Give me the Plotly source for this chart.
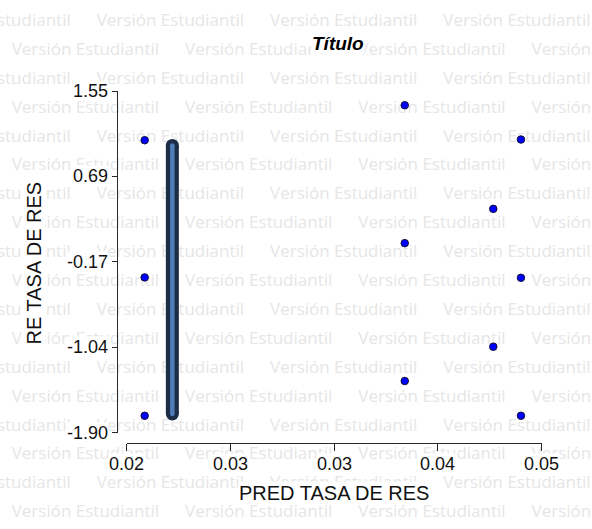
import plotly.graph_objects as go

# ---- data ----
pred = [0.0213, 0.0213, 0.0213, 0.0401, 0.0401, 0.0401, 0.0465, 0.0465, 0.0485, 0.0485, 0.0485]
resid = [1.053, -0.332, -1.729, 1.406, 0.014, -1.378, 0.360, -1.032, 1.060, -0.336, -1.729]
bar_x = [0.0233, 0.0233]
bar_y = [1.00, -1.71]
x_tick_vals = [0.02, 0.0275, 0.035, 0.0425, 0.05]
x_tick_text = ["0.02", "0.03", "0.03", "0.04", "0.05"]
y_tick_vals = [-1.90, -1.0375, -0.175, 0.6875, 1.55]
y_tick_text = ["-1.90", "-1.04", "-0.17", "0.69", "1.55"]
title_text = "Título"
x_title = "PRED TASA DE RES"
y_title = "RE TASA DE RES"
watermark = "Versión Estudiantil"

W, H = 592, 529
AX_COL = "#2a2a2a"
LBL_FONT = "Liberation Sans, Arial, sans-serif"

fig = go.Figure()

# ---- watermark layer (pixel-space helper axes covering whole figure) ----
wx, wy = [], []
for k in range(18):
    yy = 21.7 + 28.9 * k
    start = 11.7 if k % 2 == 1 else -76.6
    for j in range(-1, 5):
        wx.append(start + 173.3 * j)
        wy.append(yy)
fig.add_trace(go.Scatter(
    x=wx, y=wy, mode="text", text=[watermark] * len(wx),
    textposition="middle right",
    textfont=dict(family="Open Sans, sans-serif", size=17, color="#e6e6e6"),
    hoverinfo="skip", showlegend=False, xaxis="x", yaxis="y", cliponaxis=True,
))

# ---- data layer ----
fig.add_trace(go.Scatter(
    x=bar_x, y=bar_y, mode="lines+markers", line=dict(color="#1c2d46", width=13),
    marker=dict(color="#1c2d46", size=13, line=dict(width=0)),
    hoverinfo="skip", showlegend=False, xaxis="x2", yaxis="y2", cliponaxis=False,
))
fig.add_trace(go.Scatter(
    x=bar_x, y=bar_y, mode="lines+markers", line=dict(color="#4f7db8", width=4.5),
    marker=dict(color="#4f7db8", size=4.5, line=dict(width=0)),
    hoverinfo="skip", showlegend=False, xaxis="x2", yaxis="y2", cliponaxis=False,
))
fig.add_trace(go.Scatter(
    x=pred, y=resid, mode="markers",
    marker=dict(color="#0000ff", size=7.5, line=dict(color="#111133", width=1)),
    showlegend=False, xaxis="x2", yaxis="y2", cliponaxis=False,
))

x0p, x1p = 126.7, 541.7
ytop, ybot = 91.0, 432.7
xaxis_y = 442.7
yaxis_x = 116.7

annotations = []
# tick labels as annotations with white boxes (placed through the axis scales)
for v, t in zip(x_tick_vals, x_tick_text):
    annotations.append(dict(
        x=v, xref="x2", y=1 - 463.5 / H, yref="paper", text=t, showarrow=False,
        xanchor="center", yanchor="middle", bgcolor="white", borderpad=0,
        font=dict(family=LBL_FONT, size=18, color="#111111"),
    ))
for v, t in zip(y_tick_vals, y_tick_text):
    annotations.append(dict(
        x=108.5 / W, xref="paper", y=v, yref="y2", text=t, showarrow=False,
        xanchor="right", yanchor="middle", bgcolor="white", borderpad=0,
        font=dict(family=LBL_FONT, size=18, color="#111111"),
    ))
annotations.append(dict(
    x=337.5 / W, y=1 - 43 / H, xref="paper", yref="paper",
    text="<b><i>" + title_text + "</i></b>", showarrow=False,
    xanchor="center", yanchor="middle", bgcolor="white", borderpad=0,
    font=dict(family=LBL_FONT, size=19, color="#000000"),
))
annotations.append(dict(
    x=334 / W, y=1 - 493 / H, xref="paper", yref="paper", text=x_title,
    showarrow=False, xanchor="center", yanchor="middle", bgcolor="white", borderpad=0,
    font=dict(family=LBL_FONT, size=20, color="#111111"),
))
annotations.append(dict(
    x=33 / W, y=1 - 263.5 / H, xref="paper", yref="paper", text=y_title,
    textangle=-90, showarrow=False, xanchor="center", yanchor="middle",
    bgcolor="white", borderpad=0,
    font=dict(family=LBL_FONT, size=20, color="#111111"),
))

fig.update_layout(
    width=W, height=H, autosize=False,
    margin=dict(l=0, r=0, t=0, b=0, pad=0),
    paper_bgcolor="white", plot_bgcolor="rgba(0,0,0,0)",
    showlegend=False,
    xaxis=dict(domain=[0, 1], range=[0, W], visible=False, fixedrange=True),
    yaxis=dict(domain=[0, 1], range=[H, 0], visible=False, fixedrange=True),
    xaxis2=dict(
        domain=[x0p / W, x1p / W], range=[0.02, 0.05], anchor="free",
        position=1 - xaxis_y / H, showgrid=False, zeroline=False,
        showline=True, linecolor=AX_COL, linewidth=1,
        ticks="outside", ticklen=7, tickcolor=AX_COL, tickwidth=1,
        tickvals=x_tick_vals, showticklabels=False,
    ),
    yaxis2=dict(
        domain=[1 - ybot / H, 1 - ytop / H], range=[-1.90, 1.55], anchor="free",
        position=yaxis_x / W, showgrid=False, zeroline=False,
        showline=True, linecolor=AX_COL, linewidth=1,
        ticks="outside", ticklen=5, tickcolor=AX_COL, tickwidth=1,
        tickvals=y_tick_vals, showticklabels=False,
    ),
    annotations=annotations,
)

fig.write_html("out.html", config={"displayModeBar": False},
               post_script="document.body.style.margin='0';")
